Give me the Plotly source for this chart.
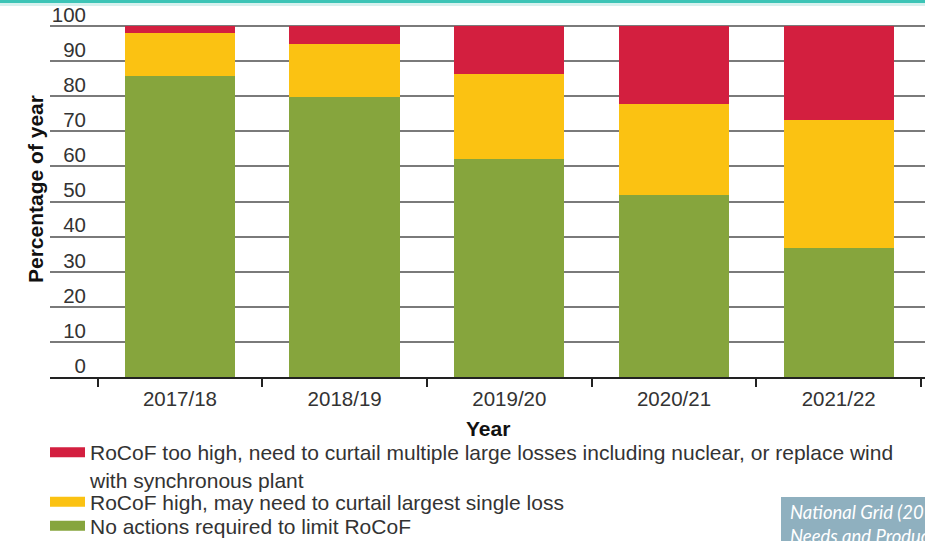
import plotly.graph_objects as go

categories = ["2017/18", "2018/19", "2019/20", "2020/21", "2021/22"]
green_vals = [85.7, 79.8, 62.0, 51.9, 36.7]
yellow_vals = [12.4, 15.2, 24.2, 25.9, 36.6]
red_vals = [1.9, 5.0, 13.8, 22.2, 26.7]

y_ticks = [0, 10, 20, 30, 40, 50, 60, 70, 80, 90, 100]

names = [
    "No actions required to limit RoCoF",
    "RoCoF high, may need to curtail largest single loss",
    "RoCoF too high, need to curtail multiple large losses including nuclear, or replace wind<br>with synchronous plant",
]
colors = ["#86a53d", "#fbc212", "#d31f3f"]
series = [green_vals, yellow_vals, red_vals]
legend_ids = ["legend3", "legend2", "legend"]

FONT = "Liberation Sans, Arial, Helvetica, sans-serif"
PH = 354.0  # plot height in px
PW = 875.0  # plot width in px


def py(p):
    return (377 - p) / PH


def px(p):
    return (p - 50) / PW


fig = go.Figure()
for vals, col in zip(series, colors):
    fig.add_trace(go.Bar(x=categories, y=vals, marker=dict(color=col, line=dict(width=0)),
                         width=0.67, showlegend=False))
# legend entries (wide swatches)
for name, col, lg in zip(names, colors, legend_ids):
    fig.add_trace(go.Scatter(x=[None], y=[None], mode="lines", name=name, legend=lg,
                             line=dict(color=col, width=11), showlegend=True))

leg_common = dict(xanchor="left", valign="top", font=dict(size=21, color="#333333"),
                  bgcolor="rgba(0,0,0,0)", itemwidth=35)

fig.update_layout(
    width=925, height=541,
    margin=dict(l=50, r=0, t=23, b=164, autoexpand=False),
    barmode="stack",
    plot_bgcolor="white", paper_bgcolor="white",
    font=dict(family=FONT, size=20, color="#333333"),
    xaxis=dict(
        type="category", range=[-0.789, 4.524],
        showline=True, linecolor="#222222", linewidth=2,
        ticks="outside", tickson="boundaries", ticklen=8, tickwidth=2, tickcolor="#222222",
        showgrid=False, tickfont=dict(size=20.5, color="#333333"), ticklabelstandoff=2,
    ),
    yaxis=dict(
        range=[0, 100.855], tickvals=y_ticks, showgrid=True, gridcolor="#7a7a7a", gridwidth=1.5,
        zeroline=False, showline=False, ticks="",
        ticklabelposition="outside top", ticklabelstandoff=-37, ticklabelshift=3,
        ticklabeloverflow="allow",
        tickfont=dict(size=20.5, color="#333333"),
    ),
    legend=dict(x=px(45), y=py(432), yanchor="top", **leg_common),
    legend2=dict(x=px(45), y=py(502), yanchor="middle", **leg_common),
    legend3=dict(x=px(45), y=py(526), yanchor="middle", **leg_common),
    annotations=[
        dict(text="<b>Percentage of year</b>", xref="paper", yref="paper",
             x=px(35), y=py(189), textangle=-90, showarrow=False,
             xanchor="center", yanchor="middle", font=dict(size=21, color="#111111")),
        dict(text="<b>Year</b>", xref="paper", yref="paper",
             x=0.5, y=py(428), showarrow=False,
             xanchor="center", yanchor="middle", font=dict(size=21, color="#111111")),
        dict(text="<i>National Grid (2017) System<br>Needs and Product Strategy</i>",
             xref="paper", yref="paper", x=px(788), y=py(499),
             xanchor="left", yanchor="top", align="left", showarrow=False,
             font=dict(family="Lato, Open Sans, sans-serif", size=18.5, color="white")),
    ],
    shapes=[
        dict(type="rect", xref="paper", yref="paper", x0=px(0), x1=px(930),
             y0=py(3), y1=py(-1), fillcolor="#3cc4b6", line=dict(width=0), layer="below"),
        dict(type="rect", xref="paper", yref="paper", x0=px(0), x1=px(930),
             y0=py(6), y1=py(3), fillcolor="#d6f1ee", line=dict(width=0), layer="below"),
        dict(type="rect", xref="paper", yref="paper", x0=px(781), x1=px(930),
             y0=py(545), y1=py(497), fillcolor="#8fb0bf", line=dict(width=0), layer="below"),
    ],
)

fig.write_html("out.html", config={"displayModeBar": False},
               post_script="document.body.style.margin='0';document.body.style.overflow='hidden';")
